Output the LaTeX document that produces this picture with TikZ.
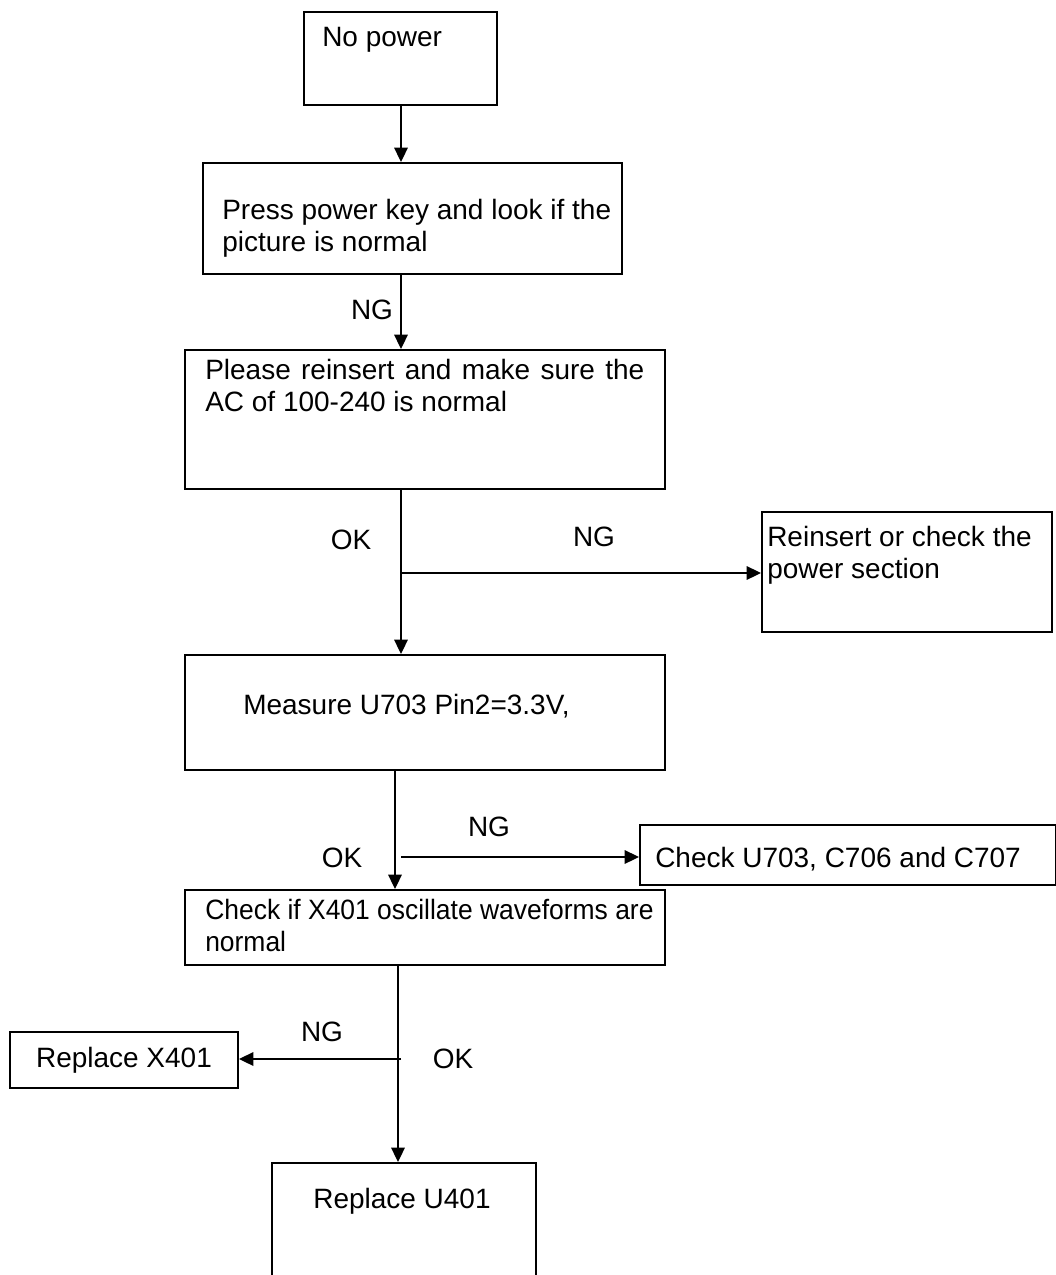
\documentclass[tikz,border=0pt]{standalone}
\usepackage{fontspec}
\setmainfont{Liberation Sans}
\usetikzlibrary{arrows.meta,fit}

\tikzset{
  box/.style={draw, line width=1.4pt, rectangle, inner sep=0pt},
  txt/.style={anchor=north west, inner sep=0pt, align=left, font=\fontsize{19.9}{22.7}\selectfont},
  lbl/.style={inner sep=0pt, font=\fontsize{19.9}{22.7}\selectfont},
  flow/.style={line width=1pt, -{Triangle[length=0.36cm, width=0.34cm]}},
}

\begin{document}
\begin{tikzpicture}[x=0.025cm, y=-0.025cm]
    \useasboundingbox (0,0) rectangle (1056,1275);

    % boxes
    \node[box, fit={(304,12) (497,105)}] (nopower) {};
    \node[box, fit={(203,163) (622,274)}] (press) {};
    \node[box, fit={(185,350) (665,489)}] (please) {};
    \node[box, fit={(762,512) (1052,632)}] (reinsert) {};
    \node[box, fit={(185,655) (665,770)}] (measure) {};
    \node[box, fit={(640,825) (1056,885)}] (checku) {};
    \node[box, fit={(185,890) (665,965)}] (checkx) {};
    \node[box, fit={(10,1032) (238,1088)}] (replx) {};
    \node[box, fit={(272,1163) (536,1290)}] (replu) {};

    % texts
    \node[txt] (nopowerT) at (322,27) {No power};
    \node[txt] (pressT) at (222,199) {Press power key and look if the\\picture is normal};
    \node[txt, text width=439*0.025cm, align=justify] (pleaseT) at (205,359) {Please reinsert and make sure the AC of 100-240 is normal};
    \node[txt] (reinsertT) at (767,526) {Reinsert or check the\\power section};
    \node[txt] (measureT) at (243,694) {Measure U703 Pin2=3.3V,};
    \node[txt] (checkuT) at (655,847) {Check U703, C706 and C707};
    \node[txt, font=\fontsize{19.9}{22.7}\selectfont\addfontfeature{FakeStretch=0.945}] (checkxT) at (205,899) {Check if X401 oscillate waveforms are\\normal};
    \node[lbl] (replxT) at (124,1060) {Replace X401};
    \node[lbl] (repluT) at (402,1201) {Replace U401};

    % branch labels
    \node[lbl] (ng1) at (372,310) {NG};
    \node[lbl] (ok1) at (351,540) {OK};
    \node[lbl] (ng2) at (594,537) {NG};
    \node[lbl] (ng3) at (489,827) {NG};
    \node[lbl] (ok2) at (342,858) {OK};
    \node[lbl] (ng4) at (322,1032) {NG};
    \node[lbl] (ok3) at (453,1059) {OK};

    % spine and branch points
    \coordinate (spine) at (401,0);
    \coordinate (spineb) at (395,0);
    \coordinate (spinec) at (398,0);
    \coordinate (b1) at (401,573);
    \coordinate (b2) at (401,857);
    \coordinate (b3) at (401,1059);

    % connectors
    \draw[flow] (nopower.south -| spine) -- (press.north -| spine);
    \draw[flow] (press.south -| spine) -- (please.north -| spine);
    \draw[flow] (please.south -| spine) -- (measure.north -| spine);
    \draw[flow] (b1) -- (b1 -| reinsert.west);
    \draw[flow] (measure.south -| spineb) -- (checkx.north -| spineb);
    \draw[flow] (b2) -- (b2 -| checku.west);
    \draw[flow] (checkx.south -| spinec) -- (replu.north -| spinec);
    \draw[flow] (b3) -- (b3 -| replx.east);
\end{tikzpicture}
\end{document}
